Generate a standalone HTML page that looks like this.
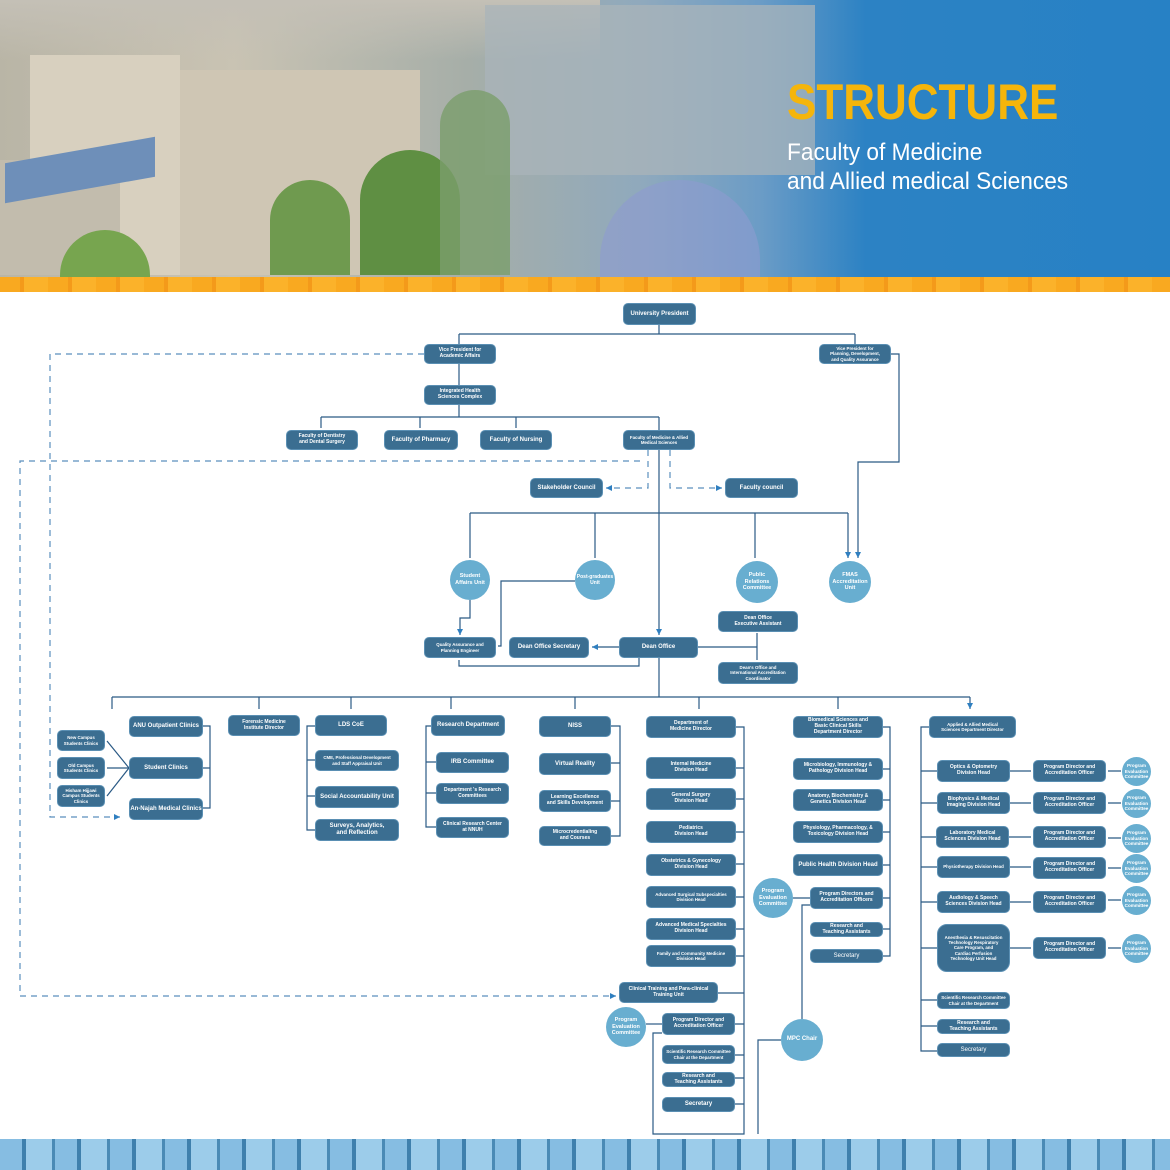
<!DOCTYPE html>
<html><head><meta charset="utf-8"><style>
*{margin:0;padding:0;box-sizing:border-box}
body{width:1170px;height:1170px;position:relative;overflow:hidden;background:#fff;font-family:"Liberation Sans",sans-serif}
.b{position:absolute;background:#3b6e91;color:#fff;border-radius:5px;display:flex;align-items:center;justify-content:center;text-align:center;font-size:5px;font-weight:bold;line-height:1.15;border:1px solid #5a8fb3;white-space:nowrap}
.s{font-size:4.4px}
.m{font-size:6px}
.c{position:absolute;background:#68aed0;color:#fff;border-radius:50%;display:flex;align-items:center;justify-content:center;text-align:center;font-size:5.5px;font-weight:bold;line-height:1.2}
svg{position:absolute;left:0;top:0}
</style></head><body>
<!-- header -->
<div style="position:absolute;left:0;top:0;width:1170px;height:278px;background:linear-gradient(90deg,#b9b5a6 0%,#c9c3b3 20%,#a6aea8 40%,#8fa9bd 55%,#6b9cc6 65%,#2c82c4 74%,#2781c5 100%)"></div>
<div style="position:absolute;left:0;top:0;width:600px;height:60px;background:linear-gradient(180deg,#c4c0b6,rgba(196,192,182,0))"></div>
<div style="position:absolute;left:30px;top:55px;width:150px;height:220px;background:#d8d0bf"></div>
<div style="position:absolute;left:180px;top:70px;width:240px;height:205px;background:#cfc6b4"></div>
<div style="position:absolute;left:0;top:160px;width:120px;height:115px;background:#c2bcad"></div>
<div style="position:absolute;left:5px;top:150px;width:150px;height:40px;background:#6e8fb9;transform:skewY(-10deg)"></div>
<div style="position:absolute;left:485px;top:5px;width:330px;height:170px;background:rgba(170,180,185,.75)"></div>
<div style="position:absolute;left:270px;top:180px;width:80px;height:95px;background:#6f9a4f;border-radius:40px 40px 0 0"></div>
<div style="position:absolute;left:360px;top:150px;width:100px;height:125px;background:#5f8f43;border-radius:50px 50px 0 0"></div>
<div style="position:absolute;left:60px;top:230px;width:90px;height:48px;background:#77a54f;border-radius:45px 45px 0 0"></div>
<div style="position:absolute;left:440px;top:90px;width:70px;height:185px;background:#7b9d6c;border-radius:35px 35px 0 0;opacity:.8"></div>
<div style="position:absolute;left:600px;top:180px;width:160px;height:98px;background:#8d9bd0;border-radius:80px 80px 0 0;opacity:.6"></div>
<div style="position:absolute;left:787px;top:76px;font-size:50px;font-weight:bold;color:#f5b50b;line-height:52px;transform:scaleX(0.88);transform-origin:left">STRUCTURE</div>
<div style="position:absolute;left:787px;top:138px;font-size:24px;color:#fff;line-height:29px;transform:scaleX(0.945);transform-origin:left;white-space:nowrap">Faculty of Medicine<br>and Allied medical Sciences</div>
<div style="position:absolute;left:0;top:277px;width:1170px;height:15px;background:repeating-linear-gradient(90deg,#f9a920 0 20px,#f49a1a 20px 24px,#fbb22a 24px 48px)"></div>
<div style="position:absolute;left:0;top:1139px;width:1170px;height:31px;background:repeating-linear-gradient(90deg,#86bde2 0 22px,#3f80ad 22px 26px,#9cccea 26px 52px,#4a8ab5 52px 55px)"></div>

<svg width="1170" height="1170" fill="none" stroke-width="1.2">
<defs><marker id="a" markerWidth="6" markerHeight="6" refX="5" refY="3" orient="auto"><path d="M0,0.5L5,3L0,5.5z" fill="#2f7fc0"/></marker></defs>
<g stroke="#2b5a85">
<path d="M659 325V334M459 334H855M459 334V344M855 334V344M459 364V385M459 405V417M321 417H659M321 417V428M420 417V428M516 417V428M659 417V430"/>
<path d="M891 354H899V462H858V558" marker-end="url(#a)"/>
<path d="M659 450V513M470 513H848"/>
<path d="M470 513V558M595 513V558M755 513V558M848 513V558" marker-end="url(#a)"/>
<path d="M659 513V635" marker-end="url(#a)"/>
<path d="M470 600V618H460V635" marker-end="url(#a)"/>
<path d="M575 581H501V646H498"/>
<path d="M619 647H592" marker-end="url(#a)"/>
<path d="M698 647H757V633M757 647V660"/>
<path d="M659 658V697M112 697H970"/>
<path d="M112 697V709M259 697V709M351 697V709M451 697V709M575 697V709M699 697V709M838 697V709M970 697V709" marker-end="url(#a)"/>
<path d="M639 658V666H459V660"/>
<path d="M203 726H210V808H203M203 768H210"/>
<path d="M129 768L107 741M129 768H107M129 768L107 796"/>
<path d="M315 726H307V830H315M307 760H315M307 796H315"/>
<path d="M431 726H426V827H436M426 762H436M426 793H436"/>
<path d="M611 726H620V836H611M620 763H611M620 801H611"/>
<path d="M736 727H744V1134H653V1033H662"/>
<path d="M744 768H736M744 799H736M744 832H736M744 864H736M744 897H736M744 929H736M744 956H736M744 993H718M744 1024H735M744 1055H735M744 1078H735M744 1104H735"/>
<path d="M883 727H890V956H883M890 769H883M890 800H883M890 832H883M890 865H883M890 898H883M890 929H883"/>
<path d="M793 898H810"/>
<path d="M802 1019V905H810M781 1040H758V1134"/>
<path d="M646 1024H662"/>
<path d="M929 727H921V1051H937M921 771H937M921 803H937M921 837H937M921 867H937M921 902H937M921 948H937M921 1000H937M921 1026H937"/>
<path d="M1010 771H1031M1010 803H1031M1009 837H1031M1010 867H1031M1010 902H1031M1010 948H1031M1121 771H1108M1121 803H1108M1121 838H1108M1121 868H1108M1121 900H1108M1121 948H1108"/>
</g>
<g stroke="#5b8fbd" stroke-dasharray="6 5">
<path d="M424 354H50V817H120" marker-end="url(#a)"/>
<path d="M640 461H20V996H616" marker-end="url(#a)"/>
<path d="M648 450V488H606" marker-end="url(#a)"/>
<path d="M670 450V488H722" marker-end="url(#a)"/>
</g>
</svg>

<div class="b m" style="left:623px;top:303px;width:73px;height:22px">University President</div>
<div class="b" style="left:424px;top:344px;width:72px;height:20px">Vice President for<br>Academic Affairs</div>
<div class="b s" style="left:819px;top:344px;width:72px;height:20px">Vice President for<br>Planning, Development,<br>and Quality Assurance</div>
<div class="b" style="left:424px;top:385px;width:72px;height:20px">Integrated Health<br>Sciences Complex</div>
<div class="b" style="left:286px;top:430px;width:72px;height:20px">Faculty of Dentistry<br>and Dental Surgery</div>
<div class="b m" style="left:384px;top:430px;width:74px;height:20px">Faculty of Pharmacy</div>
<div class="b m" style="left:480px;top:430px;width:72px;height:20px">Faculty of Nursing</div>
<div class="b s" style="left:623px;top:430px;width:72px;height:20px">Faculty of Medicine &amp; Allied<br>Medical Sciences</div>
<div class="b m" style="left:530px;top:478px;width:73px;height:20px">Stakeholder Council</div>
<div class="b m" style="left:725px;top:478px;width:73px;height:20px">Faculty council</div>
<div class="c" style="left:450px;top:560px;width:40px;height:40px">Student<br>Affairs Unit</div>
<div class="c" style="left:575px;top:560px;width:40px;height:40px;font-size:5px">Post-graduates<br>Unit</div>
<div class="c" style="left:736px;top:561px;width:42px;height:42px">Public<br>Relations<br>Committee</div>
<div class="c" style="left:829px;top:561px;width:42px;height:42px">FMAS<br>Accreditation<br>Unit</div>
<div class="b" style="left:718px;top:611px;width:80px;height:21px">Dean Office<br>Executive Assistant</div>
<div class="b s" style="left:424px;top:637px;width:72px;height:21px">Quality Assurance and<br>Planning Engineer</div>
<div class="b m" style="left:509px;top:637px;width:80px;height:21px">Dean Office Secretary</div>
<div class="b m" style="left:619px;top:637px;width:79px;height:21px">Dean Office</div>
<div class="b s" style="left:718px;top:662px;width:80px;height:22px">Dean's Office and<br>International Accreditation<br>Coordinator</div>

<div class="b m" style="left:129px;top:716px;width:74px;height:21px">ANU Outpatient Clinics</div>
<div class="b" style="left:228px;top:715px;width:72px;height:21px">Forensic Medicine<br>Institute Director</div>
<div class="b m" style="left:315px;top:715px;width:72px;height:21px">LDS CoE</div>
<div class="b m" style="left:431px;top:715px;width:74px;height:21px">Research Department</div>
<div class="b m" style="left:539px;top:716px;width:72px;height:21px">NISS</div>
<div class="b" style="left:646px;top:716px;width:90px;height:22px">Department of<br>Medicine Director</div>
<div class="b" style="left:793px;top:716px;width:90px;height:22px">Biomedical Sciences and<br>Basic Clinical Skills<br>Department Director</div>
<div class="b s" style="left:929px;top:716px;width:87px;height:22px">Applied &amp; Allied Medical<br>Sciences Department Director</div>

<div class="b s" style="left:57px;top:730px;width:48px;height:21px">New Campus<br>Students Clinics</div>
<div class="b s" style="left:57px;top:757px;width:48px;height:22px">Old Campus<br>Students Clinics</div>
<div class="b s" style="left:57px;top:785px;width:48px;height:22px">Hisham Hijjawi<br>Campus Students<br>Clinics</div>
<div class="b m" style="left:129px;top:757px;width:74px;height:22px">Student Clinics</div>
<div class="b m" style="left:129px;top:798px;width:74px;height:22px">An-Najah Medical Clinics</div>

<div class="b s" style="left:315px;top:750px;width:84px;height:21px">CME, Professional Development<br>and Staff Appraisal Unit</div>
<div class="b m" style="left:315px;top:786px;width:84px;height:22px">Social Accountability Unit</div>
<div class="b m" style="left:315px;top:819px;width:84px;height:22px">Surveys, Analytics,<br>and Reflection</div>

<div class="b m" style="left:436px;top:752px;width:73px;height:21px">IRB Committee</div>
<div class="b" style="left:436px;top:783px;width:73px;height:21px">Department 's Research<br>Committees</div>
<div class="b" style="left:436px;top:817px;width:73px;height:21px">Clinical Research Center<br>at NNUH</div>

<div class="b m" style="left:539px;top:753px;width:72px;height:22px">Virtual Reality</div>
<div class="b" style="left:539px;top:790px;width:72px;height:22px">Learning Excellence<br>and Skills Development</div>
<div class="b" style="left:539px;top:826px;width:72px;height:20px">Microcredentialing<br>and Courses</div>

<div class="b" style="left:646px;top:757px;width:90px;height:22px">Internal Medicine<br>Division Head</div>
<div class="b" style="left:646px;top:788px;width:90px;height:22px">General Surgery<br>Division Head</div>
<div class="b" style="left:646px;top:821px;width:90px;height:22px">Pediatrics<br>Division Head</div>
<div class="b" style="left:646px;top:854px;width:90px;height:22px">Obstetrics &amp; Gynecology<br>Division Head</div>
<div class="b s" style="left:646px;top:886px;width:90px;height:22px">Advanced Surgical Subspecialties<br>Division Head</div>
<div class="b" style="left:646px;top:918px;width:90px;height:22px">Advanced Medical Specialties<br>Division Head</div>
<div class="b s" style="left:646px;top:945px;width:90px;height:22px">Family and Community Medicine<br>Division Head</div>

<div class="b" style="left:793px;top:758px;width:90px;height:22px">Microbiology, Immunology &amp;<br>Pathology Division Head</div>
<div class="b" style="left:793px;top:789px;width:90px;height:22px">Anatomy, Biochemistry &amp;<br>Genetics Division Head</div>
<div class="b" style="left:793px;top:821px;width:90px;height:22px">Physiology, Pharmacology, &amp;<br>Toxicology Division Head</div>
<div class="b m" style="left:793px;top:854px;width:90px;height:22px">Public Health Division Head</div>
<div class="b" style="left:810px;top:887px;width:73px;height:22px">Program Directors and<br>Accreditation Officers</div>
<div class="b" style="left:810px;top:922px;width:73px;height:15px">Research and<br>Teaching Assistants</div>
<div class="b m" style="left:810px;top:949px;width:73px;height:14px;font-weight:normal">Secretary</div>
<div class="c" style="left:753px;top:878px;width:40px;height:40px">Program<br>Evaluation<br>Committee</div>

<div class="b" style="left:937px;top:760px;width:73px;height:22px">Optics &amp; Optometry<br>Division Head</div>
<div class="b" style="left:937px;top:792px;width:73px;height:22px">Biophysics &amp; Medical<br>Imaging Division Head</div>
<div class="b" style="left:936px;top:826px;width:73px;height:22px">Laboratory Medical<br>Sciences Division Head</div>
<div class="b s" style="left:937px;top:856px;width:73px;height:22px">Physiotherapy Division Head</div>
<div class="b" style="left:937px;top:891px;width:73px;height:22px">Audiology &amp; Speech<br>Sciences Division Head</div>
<div class="b s" style="left:937px;top:924px;width:73px;height:48px;border-radius:10px">Anesthesia &amp; Resuscitation<br>Technology Respiratory<br>Care Program, and<br>Cardiac Perfusion<br>Technology Unit Head</div>
<div class="b s" style="left:937px;top:992px;width:73px;height:17px">Scientific Research Committee<br>Chair at the Department</div>
<div class="b" style="left:937px;top:1019px;width:73px;height:15px">Research and<br>Teaching Assistants</div>
<div class="b m" style="left:937px;top:1043px;width:73px;height:14px;font-weight:normal">Secretary</div>

<div class="b" style="left:1033px;top:760px;width:73px;height:22px">Program Director and<br>Accreditation Officer</div>
<div class="b" style="left:1033px;top:792px;width:73px;height:22px">Program Director and<br>Accreditation Officer</div>
<div class="b" style="left:1033px;top:826px;width:73px;height:22px">Program Director and<br>Accreditation Officer</div>
<div class="b" style="left:1033px;top:857px;width:73px;height:22px">Program Director and<br>Accreditation Officer</div>
<div class="b" style="left:1033px;top:891px;width:73px;height:22px">Program Director and<br>Accreditation Officer</div>
<div class="b" style="left:1033px;top:937px;width:73px;height:22px">Program Director and<br>Accreditation Officer</div>
<div class="c" style="left:1122px;top:757px;width:29px;height:29px;font-size:4.6px">Program<br>Evaluation<br>Committee</div>
<div class="c" style="left:1122px;top:789px;width:29px;height:29px;font-size:4.6px">Program<br>Evaluation<br>Committee</div>
<div class="c" style="left:1122px;top:824px;width:29px;height:29px;font-size:4.6px">Program<br>Evaluation<br>Committee</div>
<div class="c" style="left:1122px;top:854px;width:29px;height:29px;font-size:4.6px">Program<br>Evaluation<br>Committee</div>
<div class="c" style="left:1122px;top:886px;width:29px;height:29px;font-size:4.6px">Program<br>Evaluation<br>Committee</div>
<div class="c" style="left:1122px;top:934px;width:29px;height:29px;font-size:4.6px">Program<br>Evaluation<br>Committee</div>

<div class="b" style="left:619px;top:982px;width:99px;height:21px">Clinical Training and Para-clinical<br>Training Unit</div>
<div class="c" style="left:606px;top:1007px;width:40px;height:40px">Program<br>Evaluation<br>Committee</div>
<div class="b" style="left:662px;top:1013px;width:73px;height:22px">Program Director and<br>Accreditation Officer</div>
<div class="b s" style="left:662px;top:1045px;width:73px;height:19px">Scientific Research Committee<br>Chair at the Department</div>
<div class="b" style="left:662px;top:1072px;width:73px;height:15px">Research and<br>Teaching Assistants</div>
<div class="b m" style="left:662px;top:1097px;width:73px;height:15px">Secretary</div>
<div class="c" style="left:781px;top:1019px;width:42px;height:42px;font-size:6px">MPC Chair</div>
</body></html>
